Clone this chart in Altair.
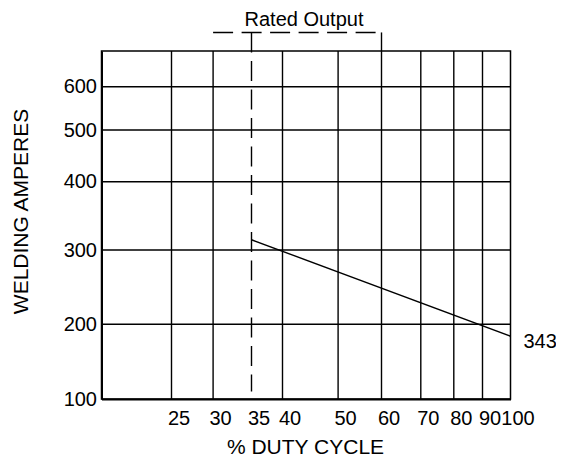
import altair as alt
import pandas as pd

# ---- data ----
duty_ticks = [25, 30, 35, 40, 50, 60, 70, 80, 90, 100]
duty_grid = [25, 30, 40, 50, 60, 70, 80, 90]
amp_ticks = [100, 200, 300, 400, 500, 600]
amp_grid = [200, 300, 400, 500, 600]

curve_duty = [35, 100]
curve_amps = [315, 184]
curve_label = ["343"]

rated_duty = [35]
rated_span_start = [30]
rated_span_end = [60]
bracket_amps = [752]
rated_low_amps = [110]
plot_top_amps = [700]

FONT = "Liberation Sans"

# chart's (non-uniform) printed scales
x_scale = alt.Scale(
    domain=[20, 25, 30, 35, 40, 50, 60, 70, 80, 90, 100],
    range=[0, 70, 111.6, 150, 181, 236.6, 280, 319.3, 352.3, 381, 409],
    nice=False, zero=False,
)
y_scale = alt.Scale(
    domain=[100, 200, 300, 400, 500, 600, 700],
    range=[348, 273.3, 199, 130.7, 79, 35.7, 0],
    nice=False, zero=False,
)

x_axis = alt.Axis(
    values=duty_ticks, title="% DUTY CYCLE", grid=False, ticks=False, tickSize=0,
    domain=True, domainColor="black", domainWidth=2,
    labelFont=FONT, labelFontSize=20, labelColor="black", labelOffset=7,
    labelBaseline="alphabetic", labelPadding=25, labelOverlap=False, labelFlush=False,
    titleFont=FONT, titleFontSize=21, titleFontWeight="normal", titleColor="black",
    titleBaseline="alphabetic", titleY=54, titleX=203.5,
)
y_axis = alt.Axis(
    values=amp_ticks, title="WELDING AMPERES", grid=False, ticks=False, tickSize=0,
    domain=True, domainColor="black", domainWidth=2,
    labelFont=FONT, labelFontSize=20, labelColor="black", labelPadding=5,
    labelBaseline="middle", labelOverlap=False, labelFlush=False,
    titleFont=FONT, titleFontSize=21, titleFontWeight="normal", titleColor="black",
    titleAngle=270, titleAlign="center", titleBaseline="alphabetic",
    titleX=-74, titleY=160,
)

X = lambda f: alt.X(f, type="quantitative", scale=x_scale, axis=x_axis)
Y = lambda f: alt.Y(f, type="quantitative", scale=y_scale, axis=y_axis)

grid_v = alt.Chart(pd.DataFrame({"duty": duty_grid})).mark_rule(
    color="black", strokeWidth=1.4
).encode(x=X("duty"))

grid_h = alt.Chart(pd.DataFrame({"amps": amp_grid})).mark_rule(
    color="black", strokeWidth=1.4
).encode(y=Y("amps"))

curve = alt.Chart(pd.DataFrame({"duty": curve_duty, "amps": curve_amps})).mark_line(
    color="black", strokeWidth=1.4
).encode(x=X("duty"), y=Y("amps"))

rated_df = pd.DataFrame({
    "duty": rated_duty, "x0": rated_span_start, "x1": rated_span_end,
    "top": bracket_amps, "low": rated_low_amps, "ptop": plot_top_amps,
})

rated_v = alt.Chart(rated_df).mark_rule(
    color="black", strokeWidth=1.4, strokeDash=[20, 8.5]
).encode(x=X("duty"), y=Y("top"), y2="low")

rated_h = alt.Chart(rated_df).mark_rule(
    color="black", strokeWidth=1.4, strokeDash=[20, 8.5]
).encode(x=X("x0"), x2="x1", y=Y("top"))

rated_end = alt.Chart(rated_df).mark_rule(
    color="black", strokeWidth=1.4
).encode(x=X("x1"), y=Y("top"), y2="ptop")

label = alt.Chart(pd.DataFrame({
    "duty": curve_duty[-1:], "amps": curve_amps[-1:], "txt": curve_label
})).mark_text(
    font=FONT, fontSize=20, color="black", align="left", baseline="middle", dx=13, dy=6
).encode(x=X("duty"), y=Y("amps"), text="txt")

chart = alt.layer(
    grid_v, grid_h, curve, rated_v, rated_h, rated_end, label
).properties(
    width=409, height=348,
    autosize=alt.AutoSizeParams(type="none"),
    padding={"left": 93.5, "top": 43, "right": 45, "bottom": 57},
    title=alt.TitleParams(
        "Rated Output", font=FONT, fontSize=20, fontWeight="normal", color="black",
        anchor="middle", frame="group", baseline="alphabetic", offset=-14.5, dx=-2,
    ),
).configure(
    background="white"
).configure_view(
    stroke="black", strokeWidth=1.5
)

chart.save("out.html", embed_options={"renderer": "svg", "actions": False})
